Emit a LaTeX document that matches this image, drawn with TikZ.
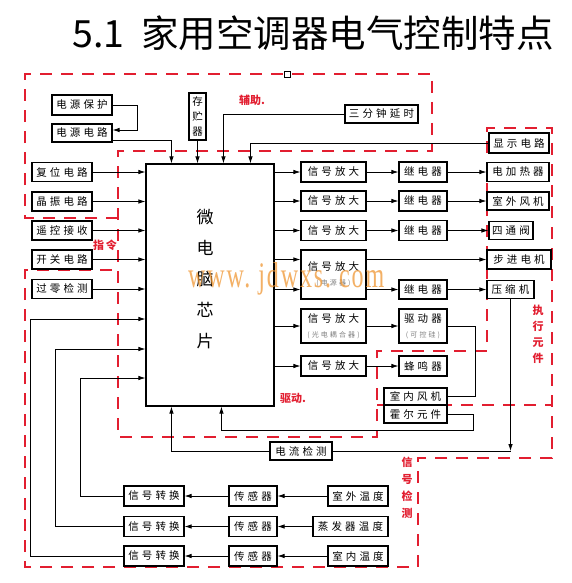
\documentclass[tikz,border=0pt]{standalone}
\usepackage{fontspec}
\setmainfont{Noto Sans CJK SC}
\newfontfamily\cjk[LetterSpace=30]{Noto Sans CJK SC}
\newfontfamily\wmfont[LetterSpace=8]{Liberation Serif}
\usetikzlibrary{arrows.meta}
\definecolor{rd}{RGB}{226,30,48}
\definecolor{wm}{RGB}{240,150,50}
\begin{document}
\begin{tikzpicture}[x=1pt,y=-1pt,
 box/.style={draw=black, line width=1.1pt, fill=white, inner sep=0pt, align=center, font=\cjk\fontsize{10.5}{15}\selectfont},
 bx/.style 2 args={box, minimum width=#1, minimum height=#2},
 vbx/.style 2 args={draw=black, line width=1.1pt, fill=white, inner sep=0pt, align=center, minimum width=#1, minimum height=#2, font=\fontsize{10.5}{15}\selectfont},
 arr/.style={line width=0.8pt, -{Latex[length=7pt,width=4.5pt]}},
 ln/.style={line width=0.8pt},
 rdash/.style={draw=rd, line width=1.3pt, dash pattern=on 12pt off 9pt},
 rlab/.style={text=rd, align=center, font=\fontsize{11}{16}\selectfont\bfseries}]
\useasboundingbox[fill=white] (0,0) rectangle (571,583);

% title
\node[font=\fontsize{37.5}{42}\selectfont] (title) at (313,33) {5.1\ \ 家用空调器电气控制特点};

% red dashed region borders
\draw[rdash] (118,218) -- (25,218) -- (25,74) -- (432,74) -- (432,151) -- (118,151) -- (118,437) -- (377,437) -- (377,351) -- (487,351) -- (487,128) -- (552,128) -- (552,458) -- (418,458) -- (418,567) -- (25,567) -- (25,270) -- (118,270);
\draw[rdash] (377,405) -- (552,405);
\node[draw, fill=white, minimum size=6pt, inner sep=0pt, line width=0.6pt] (sq) at (287,74) {};

% top / left boxes
\node[bx={60pt}{20pt}] (pwrprot) at (82,105) {电源保护};
\node[bx={60pt}{18pt}] (pwrckt) at (82,133) {电源电路};
\node[vbx={17pt}{47pt}] (mem) at (197.5,116.5) {存\\贮\\器};
\node[bx={73pt}{18pt}] (delay) at (381.5,114) {三分钟延时};
\node[bx={60pt}{19pt}] (reset) at (62,172) {复位电路};
\node[bx={60pt}{19pt}] (xtal) at (62,201.5) {晶振电路};
\node[bx={60pt}{19pt}] (remote) at (62,230.5) {遥控接收};
\node[bx={60pt}{19pt}] (switch) at (62,259.5) {开关电路};
\node[bx={60pt}{19pt}] (zero) at (62,289) {过零检测};

% chip
\node[draw=black, line width=1.1pt, fill=white, minimum width=128pt, minimum height=242pt, inner sep=0pt] (chip) at (210,285) {};
\node[align=center, font=\fontsize{17}{31}\selectfont] (chiplabel) at (205,279) {微\\电\\脑\\芯\\片};

% amplifiers
\node[bx={65pt}{20pt}] (amp1) at (333.5,172) {信号放大};
\node[bx={65pt}{20pt}] (amp2) at (333.5,201) {信号放大};
\node[bx={65pt}{20pt}] (amp3) at (333.5,230.5) {信号放大};
\node[bx={65pt}{49pt}] (amp4) at (333.5,274.5) {信号放大\\{\fontsize{7}{8}\selectfont\color{gray}(电源器)}};
\node[bx={65pt}{34pt}] (amp5) at (333.5,326) {信号放大\\{\fontsize{7}{8}\selectfont\color{gray}(光电耦合器)}};
\node[bx={65pt}{20pt}] (amp6) at (333.5,366) {信号放大};

% relays etc.
\node[bx={48pt}{20pt}] (relay1) at (423,172) {继电器};
\node[bx={48pt}{20pt}] (relay2) at (423,201) {继电器};
\node[bx={48pt}{20pt}] (relay3) at (423,230.5) {继电器};
\node[bx={48pt}{19pt}] (relay4) at (423,289.5) {继电器};
\node[bx={48pt}{34pt}] (drv) at (423,326) {驱动器\\{\fontsize{7}{8}\selectfont\color{gray}(可控硅)}};
\node[bx={48pt}{20pt}] (buzz) at (423,366) {蜂鸣器};
\node[bx={63pt}{17pt}] (infan) at (415.5,396.5) {室内风机};
\node[bx={63pt}{18pt}] (hall) at (415.5,414) {霍尔元件};

% outputs
\node[bx={60pt}{20pt}] (disp) at (519,143) {显示电路};
\node[bx={62pt}{19pt}] (heat) at (518,172) {电加热器};
\node[bx={62pt}{18pt}] (outfan) at (518,201) {室外风机};
\node[bx={44pt}{18pt}] (valve) at (511,230.5) {四通阀};
\node[bx={64pt}{19pt}] (step) at (519,259.5) {步进电机};
\node[bx={47pt}{18pt}] (comp) at (510.5,289.5) {压缩机};
\node[bx={62pt}{18pt}] (curr) at (301,451) {电流检测};

% bottom rows
\node[bx={60pt}{20pt}] (conv1) at (154,496) {信号转换};
\node[bx={60pt}{20pt}] (conv2) at (154,526.5) {信号转换};
\node[bx={60pt}{20pt}] (conv3) at (154,556) {信号转换};
\node[bx={48pt}{20pt}] (sens1) at (253,496) {传感器};
\node[bx={48pt}{20pt}] (sens2) at (253,526.5) {传感器};
\node[bx={48pt}{20pt}] (sens3) at (253,556) {传感器};
\node[bx={60pt}{20pt}] (tout) at (358,496) {室外温度};
\node[bx={75pt}{20pt}] (tevap) at (350.5,526.5) {蒸发器温度};
\node[bx={60pt}{20pt}] (tin) at (358,556) {室内温度};

% connectors: top
\draw[arr] (pwrprot.east) -- ++(25,0) |- ([yshift=3pt]pwrckt.east);
\draw[arr] ([yshift=2pt]pwrckt.south east) -| ([xshift=26pt]chip.north west);
\draw[arr] (mem.south) -- (mem.south |- chip.north);
\draw[arr] (delay.west) -| ([xshift=78pt]chip.north west);
\draw[arr] (disp.west) -| ([xshift=105pt]chip.north west);

% left inputs
\foreach \n in {reset,xtal,remote,switch,zero} \draw[arr] (\n.east) -- (\n.east -| chip.west);
\draw[arr] (conv3.west) -- ++(-93,0) |- ([yshift=-34pt]chip.west);
\draw[arr] (conv2.west) -- ++(-68,0) |- ([yshift=-64pt]chip.west);
\draw[arr] (conv1.west) -- ++(-43,0) |- ([yshift=-93pt]chip.west);
\draw[arr] (sens1.west) -- (conv1.east);
\draw[arr] (sens2.west) -- (conv2.east);
\draw[arr] (sens3.west) -- (conv3.east);
\draw[arr] (tout.west) -- (sens1.east);
\draw[arr] (tevap.west) -- (sens2.east);
\draw[arr] (tin.west) -- (sens3.east);

% right outputs
\foreach \n in {amp1,amp2,amp3,amp5,amp6} \draw[arr] (chip.east |- \n.west) -- (\n.west);
\draw[arr] (chip.east |- step.west) -- (amp4.west |- step.west);
\draw[arr] (chip.east |- relay4.west) -- (amp4.west |- relay4.west);
\draw[arr] (amp1.east) -- (relay1.west);
\draw[arr] (amp2.east) -- (relay2.west);
\draw[arr] (amp3.east) -- (relay3.west);
\draw[arr] (relay1.east) -- (heat.west);
\draw[arr] (relay2.east) -- (outfan.west);
\draw[arr] (relay3.east) -- (valve.west);
\draw[arr] (amp4.east |- step.west) -- (step.west);
\draw[arr] (amp4.east |- relay4.west) -- (relay4.west);
\draw[arr] (relay4.east) -- (comp.west);
\draw[arr] (amp5.east) -- (drv.west);
\draw[arr] (amp6.east) -- (buzz.west);
\draw[ln] (drv.east) -- ++(28,0) |- (infan.east);
\draw[arr] (hall.east) -- ++(26,0) -- ++(0,16) -| ([xshift=76pt]chip.south west);
\coordinate (cc) at (comp.south |- curr.east);
\draw[arr] (comp.south) -- (cc);
\draw[ln] (cc) -- (curr.east);
\draw[arr] (curr.west) -| ([xshift=26pt]chip.south west);

% red labels
\node[rlab] (lbaux) at (252,100) {辅助.};
\node[rlab] (lbcmd) at (105,245) {指\,令};
\node[rlab] (lbdrv) at (293,398) {驱动.};
\node[rlab] (lbexe) at (538,334) {执\\行\\元\\件};
\node[rlab, font=\fontsize{11}{17}\selectfont\bfseries] (lbdet) at (407,487.5) {信\\号\\检\\测};

% watermark
\node[text=wm, opacity=0.75, anchor=base west, inner sep=0pt, font=\wmfont\fontsize{24}{28}\selectfont] (wmark) at (188,287) {\scalebox{1}[1.5]{www.\ jdwxs.\ com}};
\end{tikzpicture}
\end{document}
